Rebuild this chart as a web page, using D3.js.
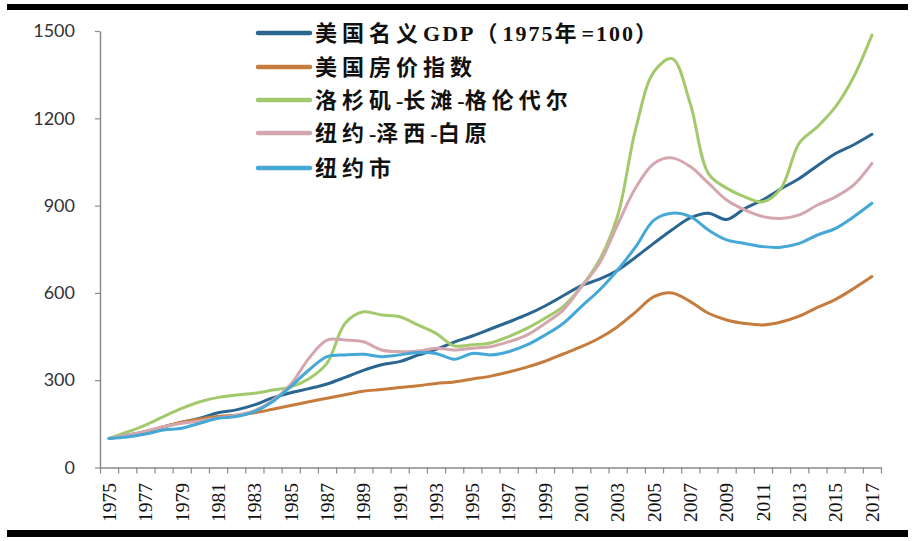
<!DOCTYPE html>
<html>
<head>
<meta charset="utf-8">
<script src="https://cdn.jsdelivr.net/npm/d3@7"></script>
<style>
  html, body { margin: 0; padding: 0; background: #fff; }
  svg { display: block; }
</style>
</head>
<body>
<svg id="chart" width="921" height="541"></svg>
<script>
const years = [1975,1976,1977,1978,1979,1980,1981,1982,1983,1984,1985,1986,1987,1988,1989,1990,1991,1992,1993,1994,1995,1996,1997,1998,1999,2000,2001,2002,2003,2004,2005,2006,2007,2008,2009,2010,2011,2012,2013,2014,2015,2016,2017];
const yTicks = [0, 300, 600, 900, 1200, 1500];
const xTickLabels = [1975,1977,1979,1981,1983,1985,1987,1989,1991,1993,1995,1997,1999,2001,2003,2005,2007,2009,2011,2013,2015,2017];

const seriesNames = ["美国名义GDP（1975年=100）", "美国房价指数", "洛杉矶-长滩-格伦代尔", "纽约-泽西-白原", "纽约市"];

const gdp = [100,111,123,139,156,169,188,198,215,239,257,271,287,310,334,353,364,386,406,431,452,476,500,525,555,590,625,647,678,723,771,817,858,874,852,890,920,958,993,1037,1079,1109,1145];
const housePrice = [100,109,123,140,156,167,175,180,188,200,213,226,238,250,262,268,275,281,289,294,304,314,328,345,365,390,415,445,484,535,587,600,570,530,507,495,490,500,520,550,578,615,656];
const losAngeles = [100,122,146,175,203,226,241,249,255,266,277,305,359,496,535,524,518,490,461,418,422,428,450,478,513,553,621,713,865,1165,1360,1405,1250,1010,960,930,913,960,1115,1171,1240,1343,1486];
const nyNjWp = [100,112,125,140,152,160,170,180,195,230,285,375,438,438,432,404,398,400,410,404,410,415,432,455,495,541,621,702,835,962,1045,1064,1034,977,919,885,862,856,868,902,930,971,1045];
const nyCity = [100,105,115,129,135,152,169,175,192,226,278,335,381,387,389,381,387,395,392,372,392,387,398,421,455,495,553,610,679,759,850,874,862,816,782,770,759,757,770,799,822,862,908];

const seriesValues = [gdp, housePrice, losAngeles, nyNjWp, nyCity];
const colors = ["#2b6690", "#c67c3c", "#a2ca6c", "#d4a6ad", "#45a8d6"];

const svg = d3.select("#chart");

// frame bars (from the screenshot)
svg.append("rect").attr("x", 7).attr("y", 4).attr("width", 901).attr("height", 6).attr("fill", "#000");
svg.append("rect").attr("x", 7).attr("y", 530).attr("width", 901).attr("height", 7).attr("fill", "#000");

const plotLeft = 100, plotRight = 881, plotTop = 31, plotBottom = 467.5;

const x = d3.scaleBand().domain(years).range([plotLeft, plotRight]).padding(0);
const xEdge = d3.scaleLinear().domain([1975, 2018]).range([plotLeft, plotRight]);
const y = d3.scaleLinear().domain([0, 1500]).range([plotBottom, plotTop]);

// Y axis
const yAxis = svg.append("g")
  .attr("transform", `translate(${plotLeft},0)`)
  .call(d3.axisLeft(y).tickValues(yTicks).tickFormat(d3.format("d")).tickSize(5).tickPadding(20).tickSizeOuter(0));
yAxis.select(".domain").attr("stroke", "#8a8a8a").attr("stroke-width", 1.5);
yAxis.selectAll(".tick line").attr("stroke", "#8a8a8a").attr("stroke-width", 1.2);
yAxis.selectAll(".tick text")
  .attr("fill", "#333")
  .style("font-family", "Lato, 'Open Sans', sans-serif")
  .style("font-size", "18px");

// X axis ticks at category edges
const xTickAxis = svg.append("g")
  .attr("transform", `translate(0,${plotBottom})`)
  .call(d3.axisBottom(xEdge).tickValues(d3.range(1975, 2019)).tickFormat("").tickSize(6).tickSizeOuter(0));
xTickAxis.select(".domain").attr("stroke", "#8a8a8a").attr("stroke-width", 1.5);
xTickAxis.selectAll(".tick line").attr("stroke", "#8a8a8a").attr("stroke-width", 1.2);

// X labels at category centers
const xLabelAxis = svg.append("g")
  .attr("transform", `translate(0,${plotBottom})`)
  .call(d3.axisBottom(x).tickValues(xTickLabels).tickSize(0));
xLabelAxis.select(".domain").remove();
xLabelAxis.selectAll(".tick text")
  .attr("transform", "rotate(-90)")
  .attr("x", -15.5)
  .attr("y", 0)
  .attr("dy", "0.35em")
  .style("text-anchor", "end")
  .attr("fill", "#111")
  .style("font-family", "'Liberation Serif', 'Times New Roman', serif")
  .style("font-size", "19.5px");

// Lines
const line = d3.line()
  .x((d, i) => x(years[i]) + x.bandwidth() / 2)
  .y(d => y(d))
  .curve(d3.curveCatmullRom.alpha(0.5));

seriesValues.forEach((vals, k) => {
  svg.append("path")
    .datum(vals)
    .attr("fill", "none")
    .attr("stroke", colors[k])
    .attr("stroke-width", 3)
    .attr("stroke-linejoin", "round")
    .attr("stroke-linecap", "round")
    .attr("d", line);
});

// Legend
const legendY = [33, 67, 100, 133, 168];
const legend = svg.append("g");
seriesNames.forEach((name, k) => {
  const g = legend.append("g").attr("transform", `translate(0,${legendY[k]})`);
  g.append("line")
    .attr("x1", 258).attr("x2", 310).attr("y1", 0).attr("y2", 0)
    .attr("stroke", colors[k]).attr("stroke-width", 4.5).attr("stroke-linecap", "round");
  const t = g.append("text")
    .attr("x", 315).attr("y", 0).attr("dy", "0.36em")
    .attr("fill", "#111")
    .style("font-family", "'Liberation Serif', 'Noto Sans CJK SC', serif")
    .style("font-weight", "bold")
    .style("font-size", "22px");
  const parts = name.match(/[A-Za-z0-9=]+|-|[^A-Za-z0-9=\-]+/g);
  parts.forEach(p => {
    let ls = "5px";
    if (/[A-Za-z0-9=]/.test(p)) ls = "2px";
    else if (p === "-") ls = "0px";
    t.append("tspan")
      .text(p)
      .style("letter-spacing", ls);
  });
});
</script>
</body>
</html>
